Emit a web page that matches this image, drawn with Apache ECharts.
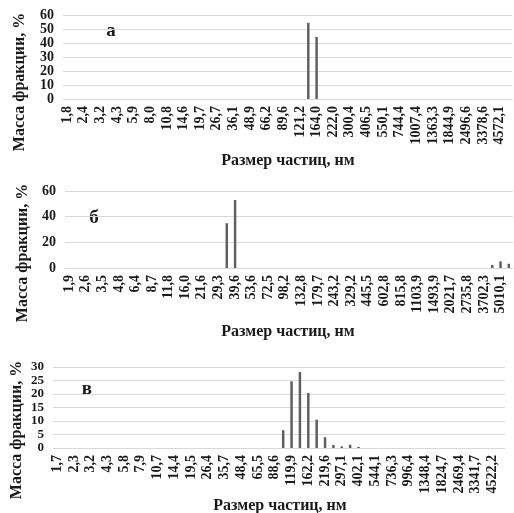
<!DOCTYPE html>
<html>
<head>
<meta charset="utf-8">
<script src="https://cdn.jsdelivr.net/npm/echarts@6/dist/echarts.min.js"></script>
<style>html,body{margin:0;padding:0;background:#fff;}#c{width:514px;height:513px;}</style>
</head>
<body>
<div id="c"></div>
<script>
// Size classes (nm); every other one is labelled on the axis
const sizesA = ['1,8','2,1','2,4','2,8','3,2','3,7','4,3','5,0','5,9','6,9','8,0','9,3','10,8','12,6','14,6','17,0','19,7','23,0','26,7','31,1','36,1','42,0','48,9','56,9','66,2','77,0','89,6','104,2','121,2','141,0','164,0','190,8','222,0','258,3','300,4','349,5','406,5','472,9','550,1','639,9','744,4','865,9','1007,4','1171,9','1363,3','1585,9','1844,9','2146,2','2496,6','2904,3','3378,6','3930,3','4572,1','5318,7'];
const sizesB = ['1,9','2,2','2,6','3,0','3,5','4,1','4,8','5,5','6,4','7,5','8,7','10,1','11,8','13,7','16,0','18,6','21,6','25,2','29,3','34,1','39,6','46,1','53,6','62,4','72,5','84,4','98,2','114,2','132,8','154,5','179,7','209,1','243,2','283,0','329,2','383,0','445,5','518,2','602,8','701,3','815,8','949,0','1103,9','1284,2','1493,9','1737,9','2021,7','2351,8','2735,8','3182,6','3702,3','4306,9','5010,1','5828,2'];
const sizesC = ['1,7','2,0','2,3','2,7','3,2','3,7','4,3','5,0','5,8','6,8','7,9','9,2','10,7','12,4','14,4','16,8','19,5','22,7','26,4','30,7','35,7','41,6','48,4','56,3','65,5','76,2','88,6','103,1','119,9','139,5','162,2','188,7','219,6','255,4','297,1','345,6','402,1','467,7','544,1','633,0','736,3','856,6','996,4','1159,1','1348,4','1568,6','1824,7','2122,6','2469,4','2872,6','3341,7','3887,3','4522,2','5260,7'];

// Mass fraction, %
const massA = [0,0,0,0,0,0,0,0,0,0, 0,0,0,0,0,0,0,0,0,0, 0,0,0,0,0,0,0,0,0,54.4, 44.3,0,0,0,0,0,0,0,0,0, 0,0,0,0,0,0,0,0,0,0, 0,0,0,0];
const massB = [0,0,0,0,0,0,0,0,0,0, 0,0,0,0,0,0,0,0,0,34.9, 53.0,0,0,0,0,0,0,0,0,0, 0,0,0,0,0,0,0,0,0,0, 0,0,0,0,0,0,0,0,0,0, 0,2.4,5.2,3.3];
const massC = [0,0,0,0,0,0,0,0,0,0, 0,0,0,0,0,0,0,0,0,0, 0,0,0,0,0,0,0,6.6,24.7,28.2, 20.4,10.5,4.0,1.1,0.6,1.2,0.4,0,0,0, 0,0,0,0,0,0,0,0,0,0, 0,0,0,0];

const panelLetters = ['а','б','в'];
const yTitle = 'Масса фракции, %';
const xTitle = 'Размер частиц, нм';

const FONT = '"Liberation Serif", "Times New Roman", serif';
const TXT = '#1a1a1a';
const GRID = '#d9d9d9';
const BAR = '#606060';

const chart = echarts.init(document.getElementById('c'), null, {renderer: 'canvas'});

function xAxis(idx, data) {
  return {
    type: 'category', gridIndex: idx, data: data,
    axisTick: {show: false},
    axisLine: {show: true, lineStyle: {color: GRID, width: 1}},
    axisLabel: {interval: 1, rotate: 90, fontFamily: FONT, fontWeight: 'bold', fontSize: 14, color: TXT, margin: 7, hideOverlap: false},
    splitLine: {show: false}
  };
}
function yAxis(idx, max, interval, fs) {
  return {
    type: 'value', gridIndex: idx, min: 0, max: max, interval: interval,
    axisLine: {show: false}, axisTick: {show: false},
    axisLabel: {fontFamily: FONT, fontWeight: 'bold', fontSize: fs, color: TXT, margin: 9,
      hideOverlap: false, showMinLabel: true, showMaxLabel: true},
    splitLine: {lineStyle: {color: GRID, width: 1}}
  };
}
function series(idx, data) {
  return {type: 'bar', xAxisIndex: idx, yAxisIndex: idx, data: data, barWidth: '30%',
    itemStyle: {color: BAR}, silent: true};
}
function txt(x, y, s, size, rot) {
  return {type: 'text', x: x, y: y, rotation: rot || 0,
    style: {text: s, font: 'bold ' + size + 'px ' + FONT, fill: TXT, align: 'center', verticalAlign: 'middle'}};
}

chart.setOption({
  animation: false,
  backgroundColor: '#fff',
  grid: [
    {left: 63, top: 15, width: 449, height: 84},
    {left: 65, top: 191, width: 448, height: 77},
    {left: 53, top: 367, width: 452, height: 81}
  ],
  xAxis: [xAxis(0, sizesA), xAxis(1, sizesB), xAxis(2, sizesC)],
  yAxis: [yAxis(0, 60, 10, 14), yAxis(1, 60, 20, 14), yAxis(2, 30, 5, 13)],
  series: [series(0, massA), series(1, massB), series(2, massC)],
  graphic: [
    txt(20, 82, yTitle, 16, Math.PI / 2),
    txt(288, 161, xTitle, 16),
    txt(111, 31, panelLetters[0], 19),
    txt(23, 253, yTitle, 16, Math.PI / 2),
    txt(288, 332, xTitle, 16),
    txt(94, 218, panelLetters[1], 19),
    txt(17, 430, yTitle, 16, Math.PI / 2),
    txt(280, 506, xTitle, 16),
    txt(87, 389, panelLetters[2], 19)
  ]
});
</script>
</body>
</html>
